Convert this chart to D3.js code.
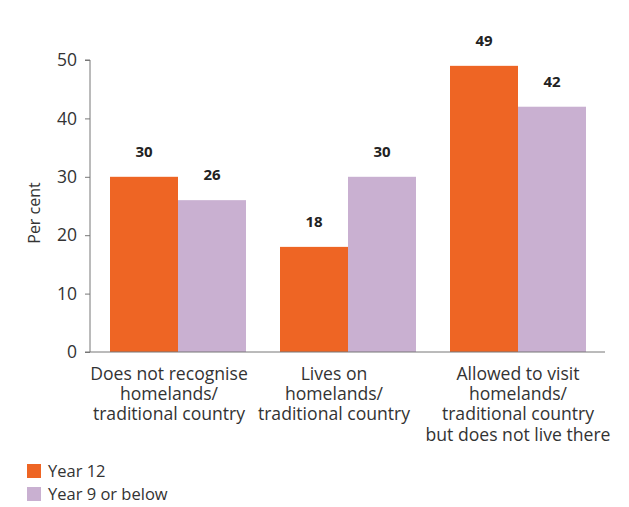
<!DOCTYPE html>
<html><head><meta charset="utf-8">
<script src="https://cdn.jsdelivr.net/npm/d3@7"></script>
<style>body{margin:0;background:#fff}svg{display:block}</style>
</head><body>
<svg id="c" width="629" height="507"></svg>
<script>
const categories = [
  ["Does not recognise","homelands/","traditional country"],
  ["Lives on","homelands/","traditional country"],
  ["Allowed to visit","homelands/","traditional country","but does not live there"]
];
const seriesNames = ["Year 12","Year 9 or below"];
const year12 = [30, 18, 49];
const year9 = [26, 30, 42];
const yTicks = [0,10,20,30,40,50];
const colors = ["#ee6524","#c9b0d1"];

const svg = d3.select("#c");
const font = "'Open Sans', sans-serif";
const x0 = d3.scaleBand().domain(d3.range(categories.length)).range([93,603]).paddingInner(0.2).paddingOuter(0.1);
const x1 = d3.scaleBand().domain([0,1]).range([0,x0.bandwidth()]);
const y = d3.scaleLinear().domain([0,50]).range([352,60]);

const data = categories.map((c,i)=>({i, vals:[year12[i],year9[i]]}));
const g = svg.append("g");
const grp = g.selectAll("g.grp").data(data).join("g").attr("transform",d=>`translate(${x0(d.i)},0)`);
grp.selectAll("rect").data(d=>d.vals.map((v,k)=>({v,k}))).join("rect")
  .attr("x",d=>x1(d.k)).attr("width",x1.bandwidth())
  .attr("y",d=>y(d.v)).attr("height",d=>y(0)-y(d.v)).attr("fill",d=>colors[d.k]);
grp.selectAll("text.val").data(d=>d.vals.map((v,k)=>({v,k}))).join("text")
  .attr("x",d=>x1(d.k)+x1.bandwidth()/2).attr("y",d=>y(d.v)-20)
  .attr("text-anchor","middle").attr("font-family",font).attr("font-weight","bold")
  .attr("font-size",15).attr("fill","#222").text(d=>d.v);

// y axis
const ya = svg.append("g").attr("transform","translate(90,0)")
  .call(d3.axisLeft(y).tickValues(yTicks).tickSize(5).tickPadding(8));
ya.select(".domain").attr("stroke","#777").attr("d","M-5,60H0V352");
ya.selectAll(".tick line").attr("stroke","#777");
ya.selectAll(".tick text").attr("font-family",font).attr("font-size",17.5).attr("fill","#333");
// x axis line
svg.append("line").attr("x1",85).attr("x2",605).attr("y1",y(0)).attr("y2",y(0)).attr("stroke","#777");

svg.append("text").attr("transform","translate(40,213) rotate(-90)").attr("text-anchor","middle")
  .attr("font-family",font).attr("font-size",16).attr("fill","#333").text("Per cent");

// category labels (one text per line); the labels sit slightly left of their groups as in the source
const labelNudge = i => [-9, -14, 0][i];
categories.forEach((lines,i)=>{
  lines.forEach((l,j)=>svg.append("text").attr("text-anchor","middle").attr("font-family",font)
    .attr("font-size",17.6).attr("fill","#333")
    .attr("x",x0(i)+x0.bandwidth()/2+labelNudge(i)).attr("y",380+j*20.2).text(l));
});

// legend
const lg = svg.append("g").selectAll("g").data(seriesNames).join("g")
  .attr("transform",(d,i)=>`translate(27,${464+i*23})`);
lg.append("rect").attr("width",14).attr("height",14).attr("fill",(d,i)=>colors[i]);
lg.append("text").attr("x",21).attr("y",13).attr("font-family",font).attr("font-size",16.5).attr("fill","#333").text(d=>d);
</script>
</body></html>
